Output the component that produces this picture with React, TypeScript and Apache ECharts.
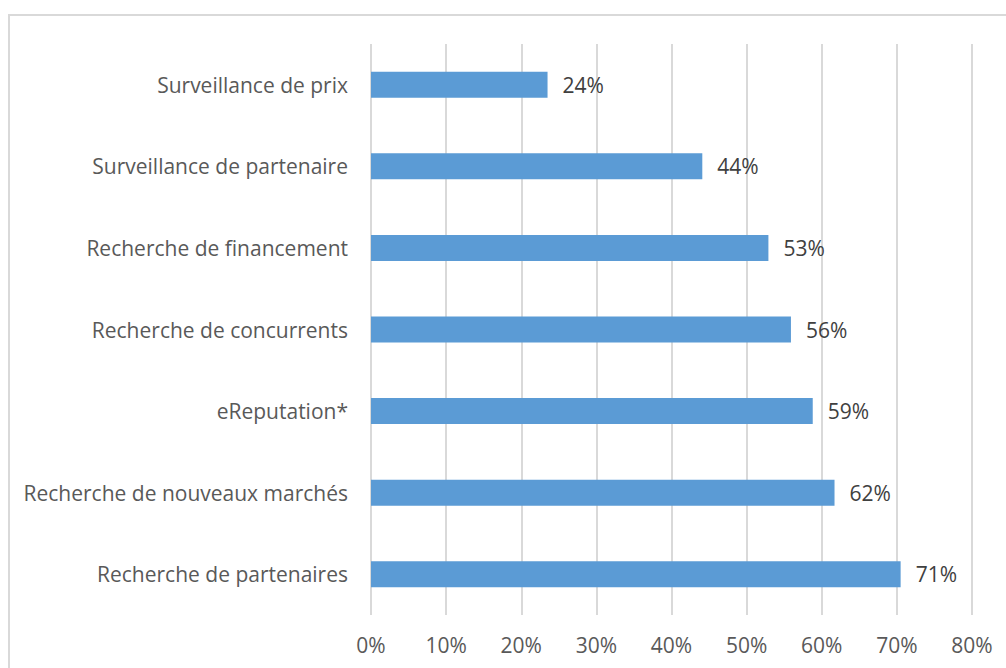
import React, { useEffect, useRef } from "react";
import * as echarts from "echarts";

const categories = [
  "Recherche de partenaires",
  "Recherche de nouveaux marchés",
  "eReputation*",
  "Recherche de concurrents",
  "Recherche de financement",
  "Surveillance de partenaire",
  "Surveillance de prix",
];
const values = [70.5, 61.7, 58.8, 55.9, 52.9, 44.1, 23.5];
const labelValues = [71, 62, 59, 56, 53, 44, 24];
const xTicks = [0, 10, 20, 30, 40, 50, 60, 70, 80];

const FONT = "'Open Sans', 'Noto Sans', sans-serif";

export default function App() {
  const ref = useRef<HTMLDivElement>(null);
  useEffect(() => {
    if (!ref.current) return;
    const chart = echarts.init(ref.current, undefined, { renderer: "svg" });
    chart.setOption({
      animation: false,
      backgroundColor: "#ffffff",
      graphic: [
        {
          type: "rect",
          shape: { x: 9, y: 15, width: 1100, height: 700 },
          style: { fill: "none", stroke: "#d9d9d9", lineWidth: 2 },
          silent: true,
        },
      ],
      grid: { left: 371, right: 34, top: 44, bottom: 53, containLabel: false },
      xAxis: {
        type: "value",
        min: xTicks[0],
        max: xTicks[xTicks.length - 1],
        interval: 10,
        axisLine: { show: false },
        axisTick: { show: false },
        splitLine: { show: true, lineStyle: { color: "#d9d9d9", width: 2 } },
        axisLabel: {
          margin: 19,
          color: "#595959",
          fontSize: 21,
          fontFamily: FONT,
          formatter: (v: number) => `${v}%`,
        },
      },
      yAxis: {
        type: "category",
        data: categories,
        axisLine: { show: false },
        axisTick: { show: false },
        axisLabel: {
          margin: 23,
          color: "#595959",
          fontSize: 21,
          fontFamily: FONT,
        },
      },
      series: [
        {
          type: "bar",
          data: values,
          barWidth: 26,
          itemStyle: { color: "#5b9bd5" },
          label: {
            show: true,
            position: "right",
            distance: 15,
            color: "#404040",
            fontSize: 21,
            fontFamily: FONT,
            formatter: (p: any) => `${labelValues[p.dataIndex]}%`,
          },
        },
      ],
    });
    return () => chart.dispose();
  }, []);
  return (
    <div
      ref={ref}
      style={{ position: "fixed", left: 0, top: 0, width: 1006, height: 668 }}
    />
  );
}
